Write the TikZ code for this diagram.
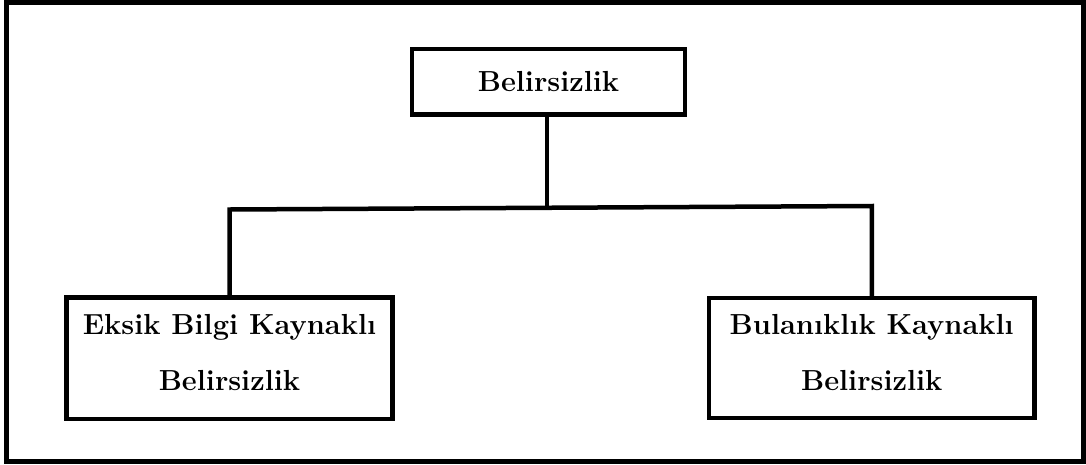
\documentclass[tikz,border=0pt]{standalone}
\usepackage{fontspec}
\begin{document}
\begin{tikzpicture}[x=1pt,y=-1pt,
  boxnode/.style={draw=black, line width=4.5pt, rectangle, inner sep=0pt, align=center,
    font=\fontsize{29}{56}\selectfont\bfseries},
  conn/.style={draw=black, line width=4.5pt}]
\useasboundingbox (0,0) rectangle (1086,464);
\draw[line width=5pt] (6.5,2.5) rectangle (1083.5,461);
\node[boxnode, minimum width=273pt, minimum height=65.5pt] (T) at (548.5,81.75) {Belirsizlik};
\node[boxnode, minimum width=326pt, minimum height=121.5pt] (L) at (229.5,358.25)
  {Eksik Bilgi Kaynaklı\\Belirsizlik\rule[-12pt]{0pt}{12pt}};
\node[boxnode, minimum width=325.5pt, minimum height=120pt] (R) at (871.75,358)
  {Bulanıklık Kaynaklı\\Belirsizlik\rule[-12pt]{0pt}{12pt}};
\coordinate (cl) at (229.5,209.5);
\coordinate (cr) at (871.75,206);
\coordinate (J) at (547,207.8);
\draw[conn] (T.south -| J) -- (J);
\draw[conn] (L.north) -- (cl) -- (cr) -- (R.north);
\end{tikzpicture}
\end{document}
